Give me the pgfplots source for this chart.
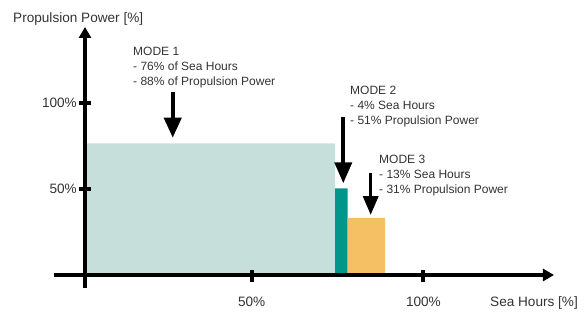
\documentclass[border=0pt]{standalone}
\usepackage{pgfplots}
\pgfplotsset{compat=1.18}
\usetikzlibrary{arrows.meta}
\usepackage{fontspec}
\setmainfont{Liberation Sans}
\definecolor{cA}{HTML}{C6DFDA}
\definecolor{cB}{HTML}{00968A}
\definecolor{cC}{HTML}{F5C063}
\definecolor{tx}{HTML}{333333}
\begin{document}
\begin{tikzpicture}
\begin{axis}[
  scale only axis, width=585bp, height=312bp,
  xmin=-23.30, xmax=147.06, ymin=-21.51, ymax=159.88,
  hide axis, clip=false,
]
\path (rel axis cs:0,0) rectangle (rel axis cs:1,1);
% bars
\addplot[fill=cA, draw=none] coordinates {(1.456,0) (74.26,0) (74.26,76.57) (1.456,76.57)} \closedcycle;
\addplot[fill=cB, draw=none] coordinates {(74.26,0) (77.95,0) (77.95,50.41) (74.26,50.41)} \closedcycle;
\addplot[fill=cC, draw=none] coordinates {(77.95,0) (88.82,0) (88.82,33.14) (77.95,33.14)} \closedcycle;
% axes
\draw[line width=4.5bp, -{Triangle[length=11bp,width=12bp]}] (axis cs:1.456,-7.56) -- (axis cs:1.456,144.19);
\draw[line width=4.5bp, -{Triangle[length=11bp,width=12bp]}] (axis cs:-7.571,0) -- (axis cs:138.03,0);
% ticks
\draw[line width=4bp] (axis cs:-0.2,100) -- (axis cs:3.29,100);
\draw[line width=4bp] (axis cs:-0.2,50) -- (axis cs:3.29,50);
\draw[line width=4bp] (axis cs:50,2.91) -- (axis cs:50,-3.90);
\draw[line width=4bp] (axis cs:100,2.91) -- (axis cs:100,-3.90);
% tick labels
\begin{scope}[every node/.style={inner sep=0pt, text=tx, font=\fontsize{13.6bp}{16bp}\selectfont}]
\node[anchor=base east] at (axis cs:-0.87,{(275-107.5)/1.72}) {100\%};
\node[anchor=base east] at (axis cs:-0.87,{(275-193.5)/1.72}) {50\%};
\node[anchor=base] at (axis cs:50,{(275-306)/1.72}) {50\%};
\node[anchor=base] at (axis cs:100,{(275-306)/1.72}) {100\%};
\node[anchor=base west] at (axis cs:-19.51,{(275-22.5)/1.72}) {Propulsion Power [\%]};
\node[anchor=base west] at (axis cs:119.39,{(275-306)/1.72}) {Sea Hours [\%]};
\end{scope}
% annotations
\begin{scope}[every node/.style={inner sep=0pt, text=tx, anchor=base west, font=\fontsize{12bp}{14bp}\selectfont}]
\node at (axis cs:15.43,{(275-56)/1.72}) {MODE 1};
\node at (axis cs:15.43,{(275-71)/1.72}) {- 76\% of Sea Hours};
\node at (axis cs:15.43,{(275-86)/1.72}) {- 88\% of Propulsion Power};
\node at (axis cs:78.63,{(275-95)/1.72}) {MODE 2};
\node at (axis cs:78.63,{(275-110)/1.72}) {- 4\% Sea Hours};
\node at (axis cs:78.63,{(275-125)/1.72}) {- 51\% Propulsion Power};
\node at (axis cs:87.07,{(275-163.5)/1.72}) {MODE 3};
\node at (axis cs:87.07,{(275-178.5)/1.72}) {- 13\% Sea Hours};
\node at (axis cs:87.07,{(275-193.5)/1.72}) {- 31\% Propulsion Power};
\end{scope}
% arrows
\draw[line width=4bp, -{Triangle[length=20bp,width=17bp]}] (axis cs:27.0,106.57) -- (axis cs:27.0,79.8);
\draw[line width=4bp, -{Triangle[length=21bp,width=17bp]}] (axis cs:76.67,92.03) -- (axis cs:76.67,53.31);
\draw[line width=3.5bp, -{Triangle[length=19bp,width=15bp]}] (axis cs:84.65,59.13) -- (axis cs:84.65,34.88);
\end{axis}
\end{tikzpicture}
\end{document}
